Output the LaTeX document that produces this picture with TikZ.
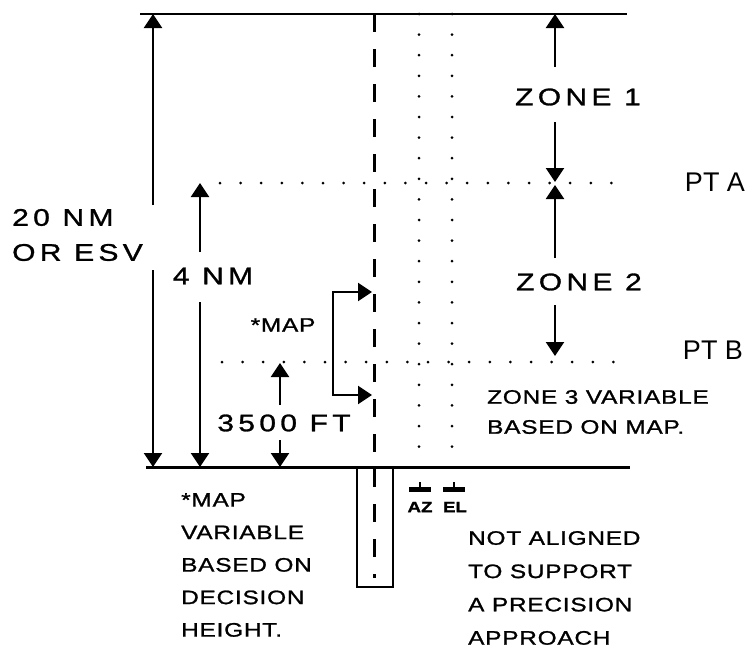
\documentclass[tikz,border=0pt]{standalone}
\usepackage{fontspec}
\setmainfont{Liberation Sans}
\newfontfamily\dimfont[FakeStretch=1.25,FakeBold=1.2]{Liberation Sans}
\usetikzlibrary{arrows.meta,positioning}

\begin{document}
\begin{tikzpicture}[x=1pt, y=-1pt,
    big/.style={font=\fontsize{24}{35}\dimfont\addfontfeature{LetterSpace=18}, inner sep=0pt, align=left},
    small/.style={font=\fontsize{19.5}{33}\dimfont\addfontfeature{LetterSpace=4}, inner sep=0pt, align=left},
    tiny/.style={font=\fontsize{15}{15}\dimfont\bfseries, inner sep=0pt},
    pt/.style={font=\fontsize{27}{27}\selectfont, inner sep=0pt},
    dim/.style={line width=2pt, -{Triangle[width=18pt,length=14pt]}},
    dots/.style={line width=3pt, line cap=round, dash pattern=on 0pt off 20.6pt},
    centre/.style={line width=3pt, dash pattern=on 18pt off 17pt}]

    \useasboundingbox (0,0) rectangle (748,648);

    % frame lines
    \coordinate (tl) at (140,14);
    \coordinate (tr) at (627,14);
    \coordinate (bl) at (146,467);
    \coordinate (br) at (630,467);
    \draw[line width=2pt] (tl) -- (tr);
    \draw[line width=3pt] (bl) -- (br);

    % PT A and PT B
    \coordinate (a1) at (220,183);
    \coordinate (a2) at (622,183);
    \coordinate (b1) at (222,362);
    \coordinate (b2) at (628,362);
    \draw[dots] (a1) -- (a2);
    \draw[dots] (b1) -- (b2);
    \node[pt] (pta) at (715,182) {PT A};
    \node[pt] (ptb) at (713,350) {PT B};

    % AZ, EL and runway
    \coordinate (az0) at (419,14);
    \coordinate (az1) at (419,467);
    \coordinate (el0) at (452,14);
    \coordinate (el1) at (452,467);
    \draw[dots] (az0) -- (az1);
    \draw[dots] (el0) -- (el1);
    \draw[line width=2pt] (357,467) rectangle (393,587);
    \coordinate (c0) at (374,14);
    \coordinate (c1) at (374,578);
    \draw[centre] (c0) -- (c1);
    \draw[line width=5pt] (409,489) -- (431,489);
    \draw[line width=2pt] (420,482) -- (420,489);
    \draw[line width=5pt] (443,489) -- (465,489);
    \draw[line width=2pt] (454,482) -- (454,489);
    \node[tiny] (az) at (420,507) {AZ};
    \node[tiny] (el) at (455,507) {EL};

    % 20 NM
    \node[big, anchor=west] (nm20) at (12,235) {20 NM\\OR ESV};
    \draw[dim] (153,205) -- (153,14);
    \draw[dim] (153,270) -- (153,467);

    % 4 NM
    \node[big] (nm4) at (213,276) {4 NM};
    \draw[dim] (200,252) -- (200,183);
    \draw[dim] (200,302) -- (200,467);

    % zones
    \node[big] (zone1) at (578,97) {ZONE 1};
    \draw[dim] (555,67) -- (555,14);
    \draw[dim] (555,122) -- (555,182);
    \node[big] (zone2) at (579,282) {ZONE 2};
    \draw[dim] (555,258) -- (555,185);
    \draw[dim] (555,305) -- (555,356);
    \node[small, anchor=west, font=\fontsize{19.5}{30}\dimfont\addfontfeature{LetterSpace=4}] (zone3) at (487,412) {ZONE 3 VARIABLE\\BASED ON MAP.};

    % 3500 FT
    \node[big] (ft) at (284,423) {3500 FT};
    \draw[dim] (280,405) -- (280,363);
    \draw[dim] (280,440) -- (280,467);

    % MAP bracket
    \node[small] (map) at (283,325) {*MAP};
    \draw[line width=2pt, {Triangle[width=18pt,length=14pt]}-{Triangle[width=18pt,length=14pt]}]
        (372,292) -- (333,292) -- (333,395) -- (372,395);

    % notes
    \node[small, anchor=west, font=\fontsize{19.5}{32.5}\dimfont\addfontfeature{LetterSpace=4}] (note1) at (181,565) {*MAP\\VARIABLE\\BASED ON\\DECISION\\HEIGHT.};
    \node[small, anchor=west, font=\fontsize{19.5}{33.3}\dimfont\addfontfeature{LetterSpace=4}] (note2) at (468,588) {NOT ALIGNED\\TO SUPPORT\\A PRECISION\\APPROACH};
\end{tikzpicture}
\end{document}
